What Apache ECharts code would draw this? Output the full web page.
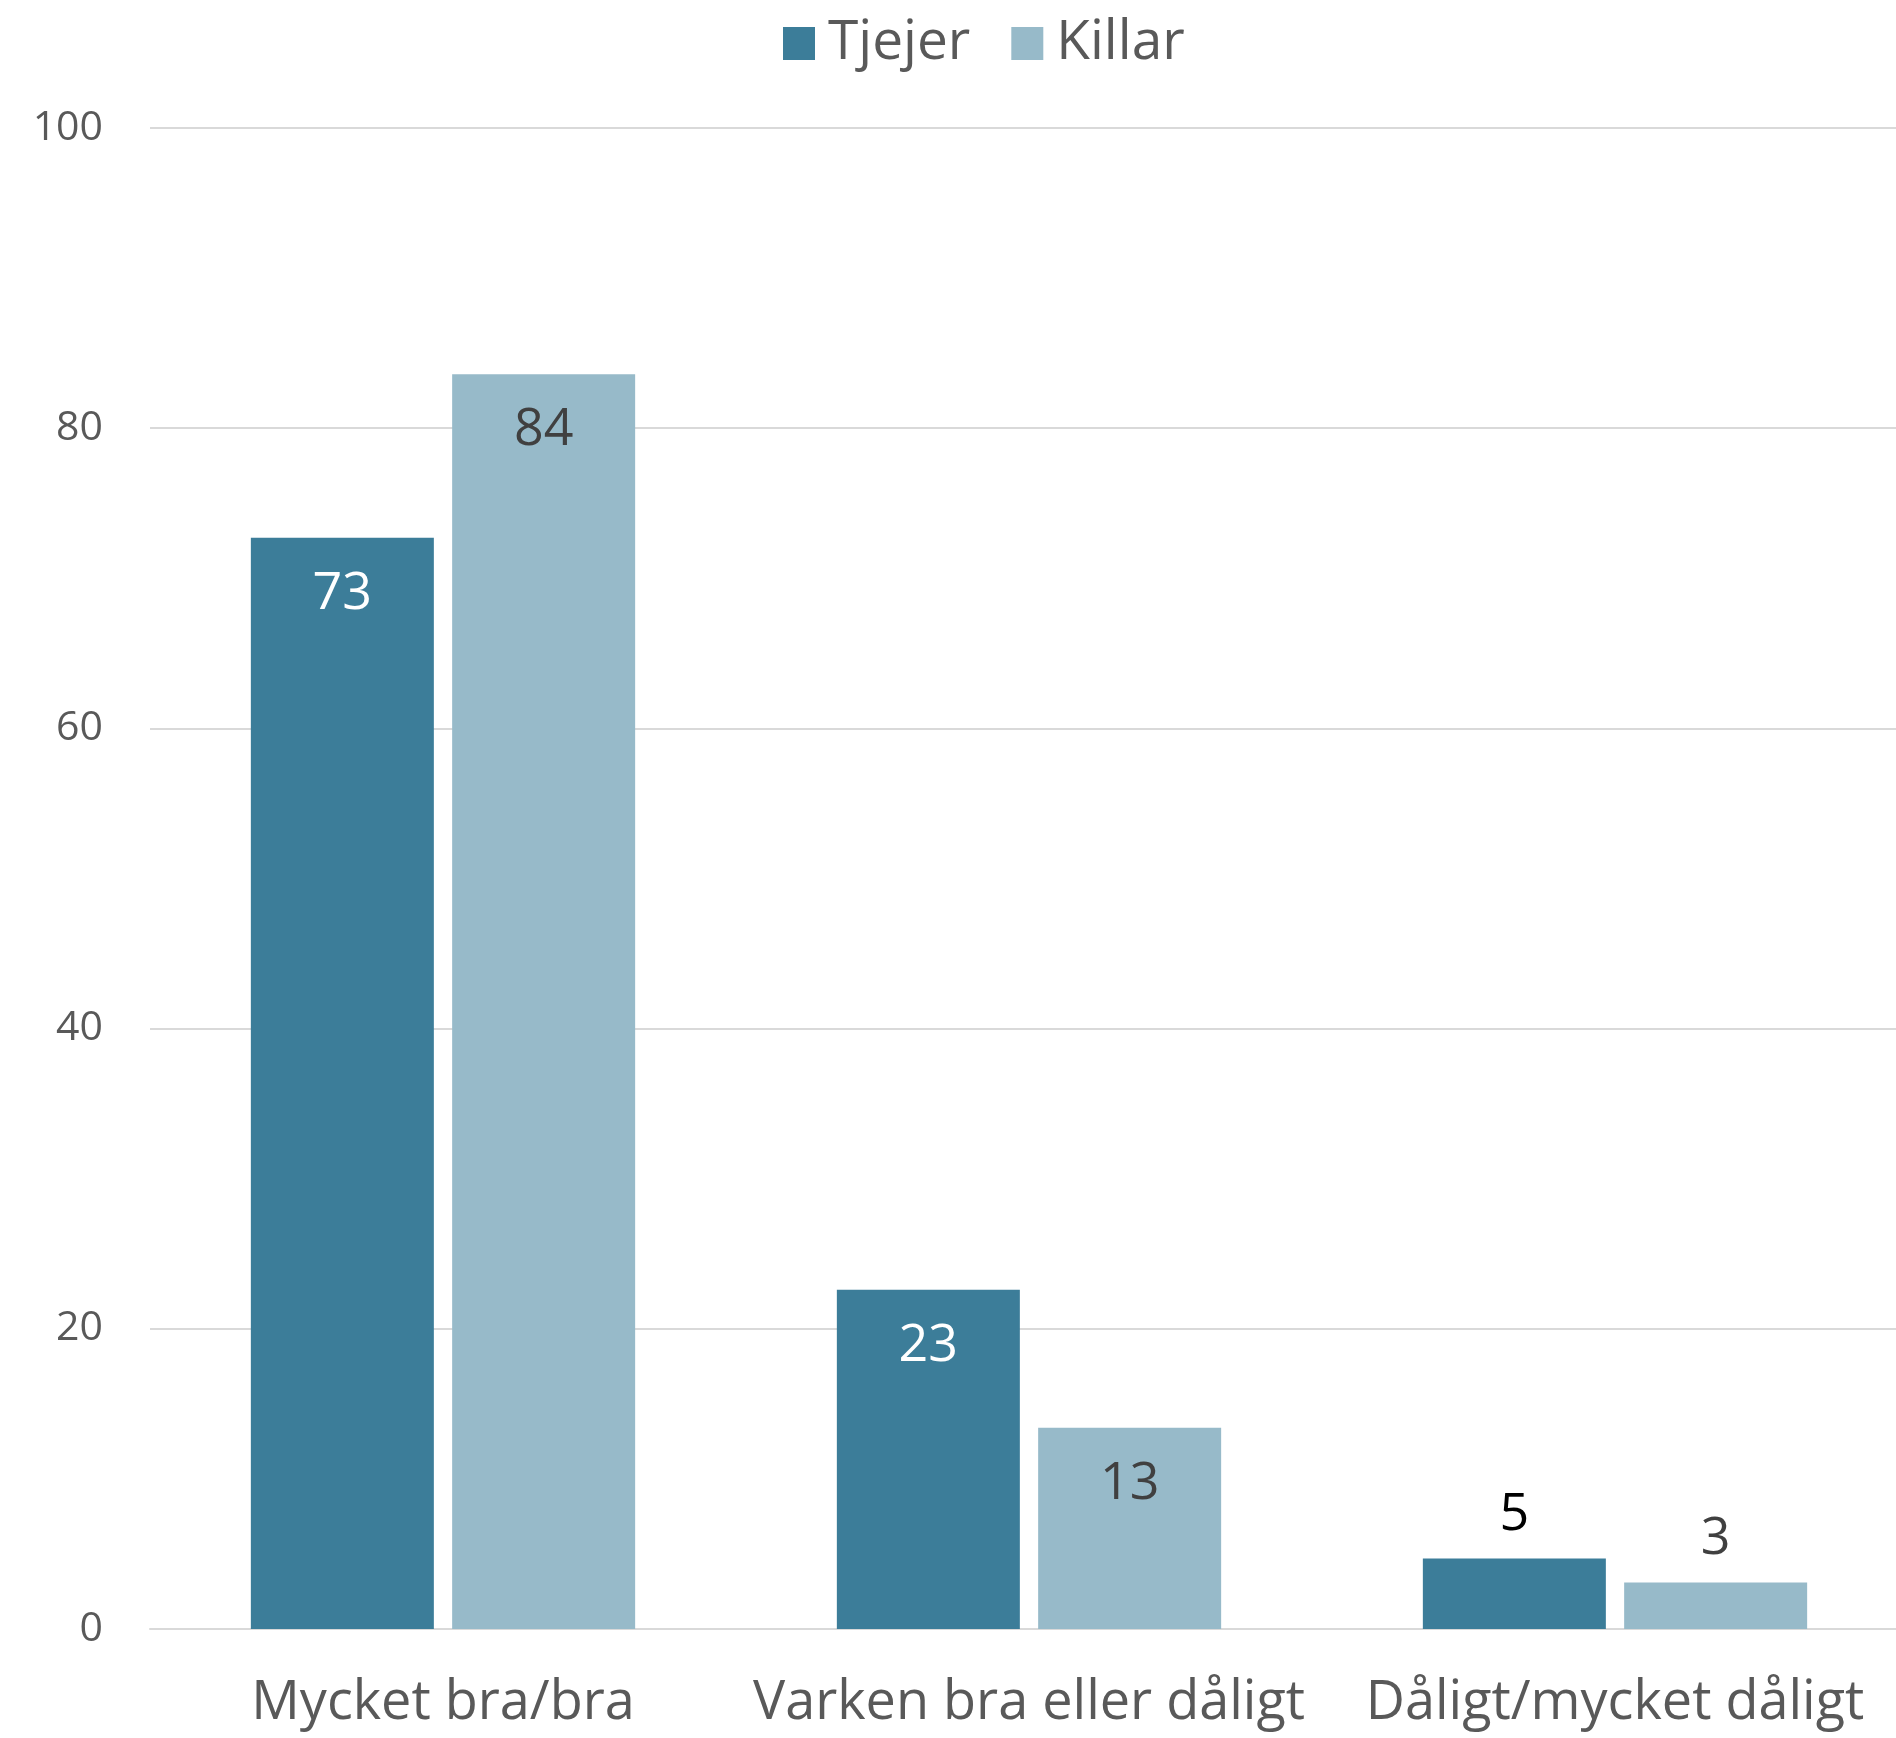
<!DOCTYPE html>
<html><head><meta charset="utf-8">
<script src="https://cdn.jsdelivr.net/npm/echarts@6/dist/echarts.min.js"></script>
<style>html,body{margin:0;padding:0;background:#fff;overflow:hidden;width:1896px;height:1738px}#c{width:1908px;height:1738px}</style>
</head><body><div id="c"></div>
<script>
const categories = ['Mycket bra/bra', 'Varken bra eller dåligt', 'Dåligt/mycket dåligt'];
const seriesNames = ['Tjejer', 'Killar'];
const tjejer = [72.7, 22.6, 4.7];
const killar = [83.6, 13.4, 3.1];
const yTicks = [0, 20, 40, 60, 80, 100];

const FONT = 'Open Sans';
function items(vals, insideColor, outsideColor) {
  return vals.map(v => ({
    value: v,
    label: v < 10
      ? { position: 'top', distance: 17, color: outsideColor }
      : { position: 'insideTop', distance: 30, color: insideColor }
  }));
}
const chart = echarts.init(document.getElementById('c'));
chart.setOption({
  animation: false,
  textStyle: { fontFamily: FONT },
  legend: {
    data: seriesNames, left: 778, top: 11, itemWidth: 32, itemHeight: 33, itemGap: 41,
    textStyle: { fontSize: 55, color: '#595959', fontFamily: FONT, padding: [0, 0, 0, 8] },
    icon: 'rect'
  },
  grid: { left: 150, right: 0, top: 128, bottom: 109, containLabel: false },
  xAxis: {
    type: 'category', data: categories,
    axisLine: { show: true, lineStyle: { color: '#d9d9d9', width: 2 } },
    axisTick: { show: false },
    axisLabel: { fontSize: 54, color: '#595959', margin: 48, fontFamily: FONT, interval: 0 }
  },
  yAxis: {
    type: 'value', min: yTicks[0], max: yTicks[yTicks.length - 1], interval: 20,
    axisLine: { show: false }, axisTick: { show: false },
    axisLabel: { fontSize: 41, color: '#595959', margin: 47, fontFamily: FONT },
    splitLine: { lineStyle: { color: '#d9d9d9', width: 2 } }
  },
  series: [
    { name: seriesNames[0], type: 'bar', barWidth: 183, barGap: '10%',
      itemStyle: { color: '#3c7d99' },
      label: { show: true, fontSize: 52, fontFamily: FONT, formatter: p => Math.round(p.value) },
      data: items(tjejer, '#ffffff', '#000000') },
    { name: seriesNames[1], type: 'bar', barWidth: 183,
      itemStyle: { color: '#97bac9' },
      label: { show: true, fontSize: 52, fontFamily: FONT, formatter: p => Math.round(p.value) },
      data: items(killar, '#404040', '#404040') }
  ]
});
</script></body></html>
